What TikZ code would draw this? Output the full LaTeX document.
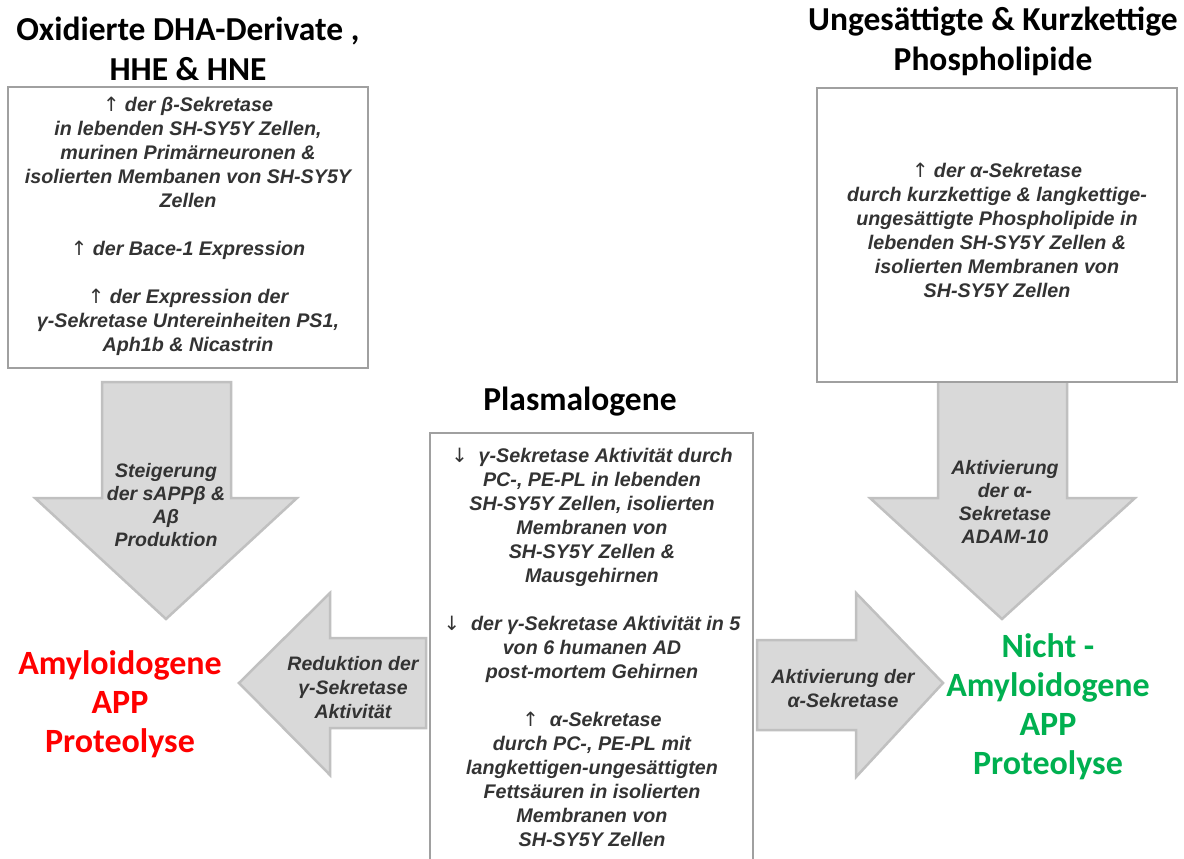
\documentclass[tikz,border=0pt]{standalone}
\usepackage{fontspec}
\setmainfont{Liberation Sans}
\newfontfamily\titlefont{Carlito}
\newfontfamily\arrfont{DejaVu Sans}
\definecolor{txt}{HTML}{333333}
\definecolor{arrfill}{HTML}{D9D9D9}
\definecolor{arrline}{HTML}{C0C0C0}
\definecolor{boxline}{HTML}{A0A0A0}
\definecolor{redt}{HTML}{FF0000}
\definecolor{greent}{HTML}{00B050}
\newcommand{\UpArr}{{\arrfont\mdseries\upshape ↑}}
\newcommand{\DnArr}{{\arrfont\mdseries\upshape ↓}}
\tikzset{
  boxtext/.style={font=\fontsize{19.7}{24}\selectfont\bfseries\itshape, text=txt, align=center, inner sep=0pt},
  titletext/.style={font=\titlefont\fontsize{33.5}{40}\selectfont\bfseries, text=black, align=center, inner sep=0pt},
  resulttext/.style={font=\titlefont\fontsize{34}{39}\selectfont\bfseries, align=center, inner sep=0pt},
  framebox/.style={draw=boxline, line width=1.3pt, fill=white, inner sep=0pt},
  blockarrow/.style={fill=arrfill, draw=arrline, line width=2.5pt, line join=miter},
}
\begin{document}
\begin{tikzpicture}[x=1pt,y=-1pt]
\useasboundingbox[fill=white] (0,0) rectangle (1184,859);

% block arrows
\draw[blockarrow] (102,382) -- (231,382) -- (231,498) -- (297,498) -- (166,619) -- (35,498) -- (102,498) -- cycle;
\draw[blockarrow] (938,375) -- (1067,375) -- (1067,498) -- (1135,498) -- (1002,619) -- (870,498) -- (938,498) -- cycle;
\draw[blockarrow] (426,638) -- (330,638) -- (330,593) -- (239,683) -- (330,775) -- (330,728) -- (426,728) -- cycle;
\draw[blockarrow] (757,640) -- (856,640) -- (856,593) -- (943,683) -- (856,777) -- (856,730) -- (757,730) -- cycle;

% titles
\node[titletext] (t1) at (188,49) {Oxidierte DHA-Derivate ,\\HHE \& HNE};
\node[titletext] (t2) at (993,41) {Ungesättigte \& Kurzkettige\\Phospholipide};
\node[titletext] (t3) at (580,402) {Plasmalogene};

% frames
\node[framebox, minimum width=360pt, minimum height=281pt] (lbox) at (188,227.5) {};
\node[framebox, minimum width=360pt, minimum height=294pt] (rbox) at (997,235) {};
\coordinate (mbl) at (430,862);
\coordinate (mbr) at (753,862);
\coordinate (mtl) at (430,433);
\coordinate (mtr) at (753,433);
\draw[boxline, line width=1.3pt] (mbl) -- (mtl) -- (mtr) -- (mbr);

% box texts
\node[boxtext] (ltext) at (188,226) {\UpArr\ der β-Sekretase\\
in lebenden SH-SY5Y Zellen,\\
murinen Primärneuronen \&\\
isolierten Membanen von SH-SY5Y\\
Zellen\\[24pt]
\UpArr\ der Bace-1 Expression\\[24pt]
\UpArr\ der Expression der\\
γ-Sekretase Untereinheiten PS1,\\
Aph1b \& Nicastrin};

\node[boxtext] (rtext) at (997,230) {\UpArr\ der α-Sekretase\\
durch kurzkettige \& langkettige-\\
ungesättigte Phospholipide in\\
lebenden SH-SY5Y Zellen \&\\
isolierten Membranen von\\
SH-SY5Y Zellen};

\node[boxtext] (mtext) at (592,647) {\DnArr\ \ γ-Sekretase Aktivität durch\\
PC-, PE-PL in lebenden\\
SH-SY5Y Zellen, isolierten\\
Membranen von\\
SH-SY5Y Zellen \&\\
Mausgehirnen\\[24pt]
\DnArr\ \ der γ-Sekretase Aktivität in 5\\
von 6 humanen AD\\
post-mortem Gehirnen\\[24pt]
\UpArr\ \ α-Sekretase\\
durch PC-, PE-PL mit\\
langkettigen-ungesättigten\\
Fettsäuren in isolierten\\
Membranen von\\
SH-SY5Y Zellen};

% arrow labels
\node[boxtext, font=\fontsize{19.5}{23.3}\selectfont\bfseries\itshape] (a1) at (166,505) {Steigerung\\der sAPPβ \&\\Aβ\\Produktion};
\node[boxtext, font=\fontsize{19.5}{23.3}\selectfont\bfseries\itshape] (a2) at (1005,502) {Aktivierung\\der α-\\Sekretase\\ADAM-10};
\node[boxtext, font=\fontsize{19.5}{24}\selectfont\bfseries\itshape] (a3) at (353,688) {Reduktion der\\γ-Sekretase\\Aktivität};
\node[boxtext, font=\fontsize{19.5}{24}\selectfont\bfseries\itshape] (a4) at (843,689) {Aktivierung der\\α-Sekretase};

% results
\node[resulttext, text=redt] (amy) at (120,704) {Amyloidogene\\APP\\Proteolyse};
\node[resulttext, text=greent] (namy) at (1048,707) {Nicht -\\Amyloidogene\\APP\\Proteolyse};
\end{tikzpicture}
\end{document}
